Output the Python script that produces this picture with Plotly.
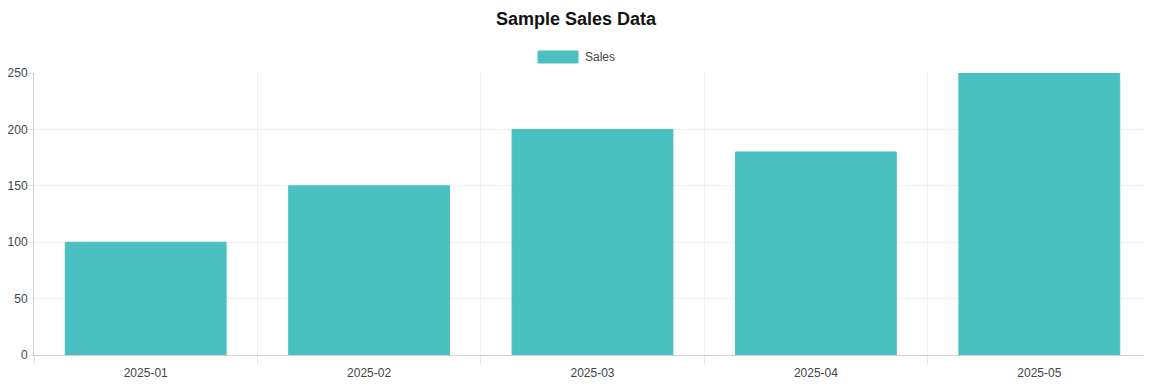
import plotly.graph_objects as go

months = ["2025-01", "2025-02", "2025-03", "2025-04", "2025-05"]
sales = [100, 150, 200, 180, 250]
y_ticks = [0, 50, 100, 150, 200, 250]

# page body has an 8px margin; lay the figure out in page pixels minus that offset
OFF = 8
W, H = 1152 - OFF, 384 - OFF
L, R, T, B = 34 - OFF, 1, 73 - OFF, 29
pw, ph = W - L - R, H - T - B

def px_x(px):
    return (px - OFF - L) / pw

def px_y(py):
    return (H - B - (py - OFF)) / ph

fig = go.Figure()
fig.add_trace(go.Bar(
    x=months, y=sales, name="Sales",
    marker=dict(color="#4BC0C0", line=dict(color="#4BC0C0", width=1)),
    showlegend=False,
))

font_family = "Liberation Sans, Arial, Helvetica, sans-serif"

fig.update_layout(
    width=W, height=H,
    margin=dict(l=L, r=R, t=T, b=B, autoexpand=False),
    paper_bgcolor="white", plot_bgcolor="white",
    bargap=0.28,
    title=dict(text="<b>Sample Sales Data</b>", x=(576 - OFF) / W, xanchor="center",
               y=1 - (19 - OFF) / H, yanchor="middle",
               font=dict(family=font_family, size=18, color="#111")),
    font=dict(family=font_family, size=12, color="#666"),
    xaxis=dict(type="category", tickson="boundaries", ticks="outside", ticklen=8,
               tickcolor="#e6e6e6", showgrid=True, gridcolor="#f0f0f0",
               showline=True, linecolor="#d0d0d0", linewidth=1,
               ticklabelstandoff=7, automargin=False,
               tickfont=dict(size=12, color="#444"), zeroline=False),
    yaxis=dict(range=[0, 250], tickvals=y_ticks, ticks="outside", ticklen=4,
               ticklabelstandoff=-1,
               tickcolor="#e6e6e6", showgrid=True, gridcolor="#f0f0f0",
               showline=True, linecolor="#d0d0d0", linewidth=1, zeroline=False,
               automargin=False,
               tickfont=dict(size=12, color="#444")),
)

# legend swatch and label
fig.add_shape(type="rect", xref="paper", yref="paper",
              x0=px_x(538), x1=px_x(578), y0=px_y(63), y1=px_y(51),
              fillcolor="#4BC0C0", line=dict(color="#4BC0C0", width=1))
fig.add_annotation(xref="paper", yref="paper", x=px_x(583), y=px_y(57),
                   text="Sales", showarrow=False, xanchor="left", yanchor="middle",
                   font=dict(family=font_family, size=12, color="#444"))

fig.write_html("out.html")
